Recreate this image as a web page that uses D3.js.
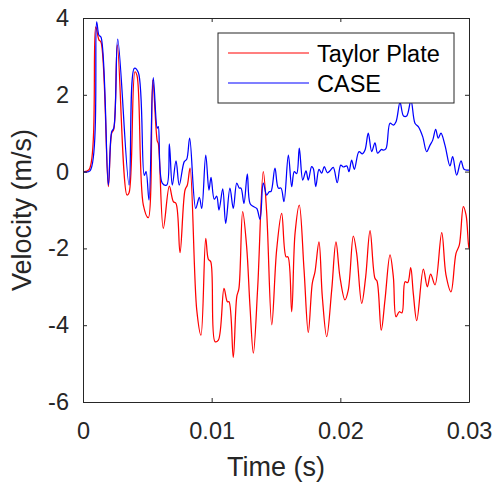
<!DOCTYPE html>
<html>
<head>
<meta charset="utf-8">
<script src="https://cdn.jsdelivr.net/npm/d3@7"></script>
<style>
  html, body { margin: 0; padding: 0; background: #fff; }
  svg { display: block; font-family: "Liberation Sans", Helvetica, Arial, sans-serif; }
</style>
</head>
<body>
<svg id="chart" width="494" height="484"></svg>
<script>
// Velocity traces (time in s, velocity in m/s)
const taylorTime = [0, 0.00047, 0.00099, 0.00124, 0.00140, 0.00197, 0.00223, 0.00239, 0.00267, 0.00342,
  0.00358, 0.00404, 0.00420, 0.00469, 0.00508, 0.00542, 0.00577, 0.00585, 0.00624, 0.00671,
  0.00702, 0.00723, 0.00754, 0.00793, 0.00811, 0.00832, 0.00884, 0.00917, 0.00954, 0.00974,
  0.00993, 0.01026, 0.01052, 0.01096, 0.01122, 0.01135, 0.01168, 0.01195, 0.01212, 0.01241,
  0.01272, 0.01298, 0.01324, 0.01358, 0.01401, 0.01428, 0.01467, 0.01505, 0.01544, 0.01578,
  0.01593, 0.01622, 0.01648, 0.01681, 0.01718, 0.01751, 0.01782, 0.01803, 0.01834, 0.01860,
  0.01894, 0.01933, 0.01966, 0.01997, 0.02036, 0.02062, 0.02101, 0.02127, 0.02166, 0.02197,
  0.02231, 0.02269, 0.02285, 0.02318, 0.02347, 0.02386, 0.02412, 0.02433, 0.02458, 0.02479,
  0.02503, 0.02524, 0.02547, 0.02567, 0.02594, 0.02645, 0.02676, 0.02702, 0.02736, 0.02788,
  0.02821, 0.02860, 0.02899, 0.02925, 0.02956, 0.02977, 0.02995, 0.03000];
const taylorVel = [0, 0.05, 3.77, 3.43, 3.37, -0.39, 1.0, 1.1, 3.3, -0.61,
  -0.55, 2.6, 2.5, -0.87, -1.2, 2.38, 0.8, 0.74, -1.48, -0.38,
  -0.78, -0.83, -2.11, -0.48, -0.35, 0.09, -3.6, -4.26, -1.74, -2.28,
  -2.35, -4.43, -4.39, -3.04, -3.39, -3.39, -4.84, -3.26, -3.04, -1.04,
  -1.96, -3.52, -4.73, -3.0, 0.0, -1.09, -3.99, -2.04, -1.09, -2.22,
  -2.22, -3.65, -1.61, -0.87, -2.56, -4.19, -2.91, -2.61, -1.83, -3.26,
  -4.3, -3.08, -1.83, -2.74, -3.34, -3.08, -1.68, -2.13, -3.43, -2.74,
  -1.54, -2.78, -2.85, -4.13, -3.34, -2.17, -2.74, -3.78, -3.65, -3.68,
  -2.87, -2.89, -2.5, -3.17, -3.88, -2.54, -3.0, -2.67, -2.95, -1.59,
  -2.69, -3.13, -2.13, -1.91, -0.91, -1.13, -1.87, -2.0];

const caseTime = [0, 0.00054, 0.00106, 0.00124, 0.00140, 0.00197, 0.00223, 0.00239, 0.00270, 0.00358,
  0.00399, 0.00430, 0.00476, 0.00490, 0.00513, 0.00546, 0.00577, 0.00585, 0.00616, 0.00651,
  0.00671, 0.00694, 0.00723, 0.00748, 0.00787, 0.00806, 0.00829, 0.00876, 0.00904, 0.00923,
  0.00954, 0.00979, 0.00995, 0.01020, 0.01039, 0.01057, 0.01086, 0.01109, 0.01142, 0.01168,
  0.01195, 0.01215, 0.01228, 0.01251, 0.01277, 0.01298, 0.01324, 0.01350, 0.01376, 0.01401,
  0.01428, 0.01448, 0.01461, 0.01492, 0.01518, 0.01539, 0.01562, 0.01596, 0.01622, 0.01642,
  0.01661, 0.01681, 0.01708, 0.01733, 0.01751, 0.01777, 0.01790, 0.01809, 0.01834, 0.01855,
  0.01875, 0.01899, 0.01920, 0.01945, 0.01976, 0.02003, 0.02023, 0.02050, 0.02067, 0.02088,
  0.02109, 0.02145, 0.02171, 0.02192, 0.02217, 0.02244, 0.02269, 0.02290, 0.02321, 0.02334,
  0.02355, 0.02386, 0.02412, 0.02433, 0.02464, 0.02491, 0.02516, 0.02549, 0.02580, 0.02606,
  0.02640, 0.02671, 0.02697, 0.02718, 0.02741, 0.02761, 0.02782, 0.02813, 0.02852, 0.02873,
  0.02904, 0.02938, 0.02961, 0.02987, 0.03000];
const caseVel = [0, 0.02, 3.9, 3.55, 3.5, -0.35, 1.04, 1.13, 3.45, -0.35,
  2.69, 2.58, -0.1, 0.0, -0.74, 2.45, 1.13, 1.17, -0.3, -0.35,
  0.72, -0.35, 0.28, -0.35, 0.26, 0.32, 0.87, -0.96, -0.67, -0.96,
  0.43, -0.48, -0.15, -0.72, -0.64, -1.0, -0.45, -1.35, -0.43, -0.96,
  -0.3, -0.43, -0.43, -0.83, -0.06, -0.83, -0.91, -0.96, -1.24, -0.3,
  -0.61, -0.52, -0.52, 0.09, -0.43, -0.43, -0.78, 0.43, -0.39, 0.0,
  -0.05, 0.61, -0.22, 0.02, -0.22, 0.13, 0.08, -0.39, 0.06, -0.04,
  0.13, -0.03, 0.02, 0.11, -0.29, 0.17, 0.12, 0.15, 0.0, 0.3,
  0.06, 0.52, 0.46, 0.56, 1.0, 0.52, 0.75, 0.48, 0.58, 0.56,
  0.6, 1.26, 1.21, 1.3, 1.8, 1.45, 1.45, 1.85, 1.26, 1.17,
  0.91, 0.52, 0.69, 0.82, 1.1, 0.87, 1.0, 0.69, 0.15, 0.39,
  -0.09, 0.28, 0.06, 0.04, 0.04];

const xTicks = [0, 0.01, 0.02, 0.03];
const xTickLabels = ["0", "0.01", "0.02", "0.03"];
const yTicks = [-6, -4, -2, 0, 2, 4];
const yTickLabels = ["-6", "-4", "-2", "0", "2", "4"];
const seriesNames = ["Taylor Plate", "CASE"];
const seriesColors = ["#ff0000", "#0000ff"];

const margin = { top: 18, right: 25, bottom: 82, left: 83 };
const W = 494, H = 484;
const iw = W - margin.left - margin.right;
const ih = H - margin.top - margin.bottom;
const axisColor = "#262626";

const svg = d3.select("#chart");
const g = svg.append("g").attr("transform", `translate(${margin.left},${margin.top})`);

const x = d3.scaleLinear().domain([0, 0.03]).range([0, iw]);
const y = d3.scaleLinear().domain([-6, 4]).range([ih, 0]);

g.append("clipPath").attr("id", "plotClip")
  .append("rect").attr("width", iw).attr("height", ih);

const series = [
  taylorTime.map((t, i) => [t, taylorVel[i]]),
  caseTime.map((t, i) => [t, caseVel[i]])
];

const line = d3.line()
  .x(d => x(d[0]))
  .y(d => y(d[1]))
  .curve(d3.curveCatmullRom.alpha(0.5));

g.append("g").attr("clip-path", "url(#plotClip)")
  .selectAll("path")
  .data(series)
  .join("path")
  .attr("fill", "none")
  .attr("stroke", (d, i) => seriesColors[i])
  .attr("stroke-width", 1.25)
  .attr("stroke-linejoin", "round")
  .attr("d", line);

// Axes with inward ticks, mirrored on top and right
const tickLen = 4;
const bottomAxis = d3.axisBottom(x).tickValues(xTicks)
  .tickFormat((d, i) => xTickLabels[i]).tickSizeInner(-tickLen).tickSizeOuter(0).tickPadding(20);
const leftAxis = d3.axisLeft(y).tickValues(yTicks)
  .tickFormat((d, i) => yTickLabels[i]).tickSizeInner(-tickLen).tickSizeOuter(0).tickPadding(14);
const topAxis = d3.axisTop(x).tickValues(xTicks).tickFormat("").tickSizeInner(-tickLen).tickSizeOuter(0);
const rightAxis = d3.axisRight(y).tickValues(yTicks).tickFormat("").tickSizeInner(-tickLen).tickSizeOuter(0);

function styleAxis(sel) {
  sel.select(".domain").attr("stroke", axisColor).attr("stroke-width", 1);
  sel.selectAll(".tick line").attr("stroke", axisColor).attr("stroke-width", 1);
  sel.selectAll(".tick text").attr("fill", "#262626")
    .style("font-family", "'Liberation Sans', Helvetica, Arial, sans-serif")
    .style("font-size", "23.5px");
}

g.append("g").attr("transform", `translate(0,${ih})`).call(bottomAxis).call(styleAxis);
g.append("g").call(leftAxis).call(styleAxis);
g.append("g").call(topAxis).call(styleAxis);
g.append("g").attr("transform", `translate(${iw},0)`).call(rightAxis).call(styleAxis);

// Axis titles
g.append("text")
  .attr("x", iw / 2).attr("y", ih + 74)
  .attr("text-anchor", "middle")
  .attr("fill", "#262626")
  .style("font-size", "27px")
  .text("Time (s)");

g.append("text")
  .attr("transform", `translate(${-52},${ih / 2}) rotate(-90)`)
  .attr("text-anchor", "middle")
  .attr("fill", "#262626")
  .style("font-size", "27px")
  .text("Velocity (m/s)");

// Legend
const legend = svg.append("g").attr("transform", "translate(218,33)");
legend.append("rect")
  .attr("width", 236).attr("height", 70)
  .attr("fill", "#fff").attr("stroke", axisColor).attr("stroke-width", 1);
seriesNames.forEach((name, i) => {
  const cy = 20 + i * 30;
  legend.append("line")
    .attr("x1", 10).attr("x2", 91).attr("y1", cy).attr("y2", cy)
    .attr("stroke", seriesColors[i]).attr("stroke-width", 1.2);
  legend.append("text")
    .attr("x", 99).attr("y", cy + 9)
    .attr("fill", "#000")
    .style("font-size", "23.5px")
    .text(name);
});
</script>
</body>
</html>
